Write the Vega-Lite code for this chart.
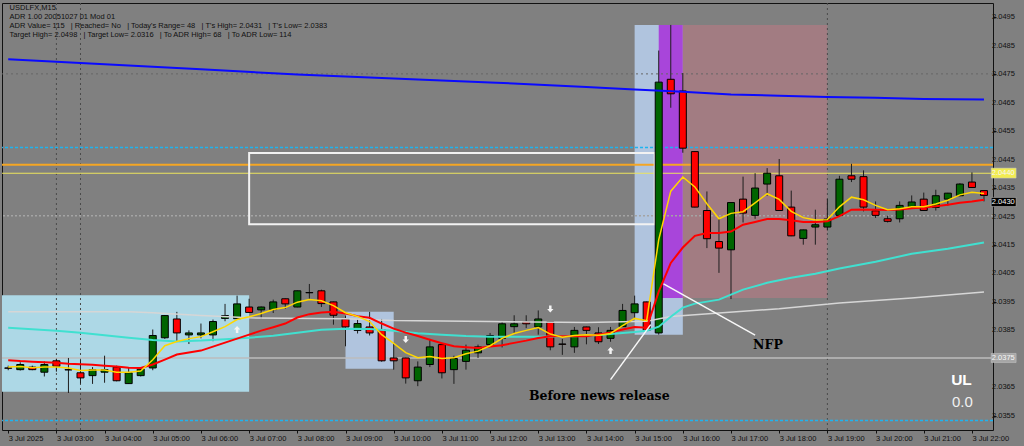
{
"$schema": "https://vega.github.io/schema/vega-lite/v6.json",
"width": 991,
"height": 427,
"autosize": {"type": "none"},
"padding": {"left": 2, "top": 3, "right": 31, "bottom": 16},
"background": "#808080",
"config": {"view": {"stroke": "#111111", "strokeWidth": 1},
 "axis": {"titleOpacity": 0, "titleFontSize": 1, "titlePadding": 0, "labelOverlap": false, "grid": false, "domain": false, "tickColor": "#111111", "labelColor": "#111111", "labelFont": "Liberation Sans", "labelFontSize": 7.5, "labelBound": false, "labelFlush": false},
 "axisY": {"labels": false, "tickSize": 3},
 "axisX": {"tickSize": 3, "labelPadding": 1}},
"resolve": {"scale": {"color": "independent"}},
"layer": [
{"data": {"values": [
 {"t1": "01:30", "t2": "07:00", "p1": 2.03634, "p2": 2.03973, "kind": "session"},
 {"t1": "09:00", "t2": "10:00", "p1": 2.03715, "p2": 2.03915, "kind": "news"},
 {"t1": "15:00", "t2": "16:00", "p1": 2.03835, "p2": 2.04923, "kind": "news"},
 {"t1": "15:30", "t2": "16:00", "p1": 2.03964, "p2": 2.04923, "kind": "nfp"},
 {"t1": "16:00", "t2": "19:00", "p1": 2.03964, "p2": 2.04923, "kind": "after"}],
 "format": {"parse": {"t1": "utc:'%H:%M'", "t2": "utc:'%H:%M'"}}},
 "mark": {"type": "rect", "clip": true},
 "encoding": {
  "x": {"field": "t1", "type": "temporal", "scale": {"type": "utc", "nice": false, "domain": [{"year": 1900, "month": 1, "date": 1, "hours": 1, "minutes": 58, "seconds": 30, "utc": true}, {"year": 1900, "month": 1, "date": 1, "hours": 22, "minutes": 20, "utc": true}]}},
  "x2": {"field": "t2"},
  "y": {"field": "p1", "type": "quantitative", "scale": {"domain": [2.035, 2.05], "zero": false, "nice": false}},
  "y2": {"field": "p2"},
  "fill": {"field": "kind", "type": "nominal", "legend": null, "scale": {"domain": ["session", "news", "nfp", "after"], "range": ["#ADD8E6", "#B0C4DE", "#A845DA", "#A27C82"]}}
 }},
{"data": {"values": [{"t": "03:00"}, {"t": "03:30"}, {"t": "19:00"}], "format": {"parse": {"t": "utc:'%H:%M'"}}},
 "mark": {"type": "rule", "color": "#4a4a4a", "strokeWidth": 1, "strokeDash": [2, 3]},
 "encoding": {"x": {"field": "t", "type": "temporal", "scale": {"type": "utc", "nice": false, "domain": [{"year": 1900, "month": 1, "date": 1, "hours": 1, "minutes": 58, "seconds": 30, "utc": true}, {"year": 1900, "month": 1, "date": 1, "hours": 22, "minutes": 20, "utc": true}]}}}},
{"data": {"values": [{"p": 2.04751}]}, "mark": {"type": "rule", "color": "#666666", "strokeWidth": 1, "strokeDash": [2, 3]},
 "encoding": {"y": {"field": "p", "type": "quantitative", "scale": {"domain": [2.035, 2.05], "zero": false, "nice": false}}}},
{"data": {"values": [{"p": 2.04492}, {"p": 2.03533}]}, "mark": {"type": "rule", "color": "#1EB4F0", "strokeWidth": 1.5, "strokeDash": [3, 2]},
 "encoding": {"y": {"field": "p", "type": "quantitative", "scale": {"domain": [2.035, 2.05], "zero": false, "nice": false}}}},
{"data": {"values": [{"p": 2.04432}]}, "mark": {"type": "rule", "color": "#F5A623", "strokeWidth": 2},
 "encoding": {"y": {"field": "p", "type": "quantitative", "scale": {"domain": [2.035, 2.05], "zero": false, "nice": false}}}},
{"data": {"values": [{"p": 2.04402}]}, "mark": {"type": "rule", "color": "#ECE45C", "strokeWidth": 1.2},
 "encoding": {"y": {"field": "p", "type": "quantitative", "scale": {"domain": [2.035, 2.05], "zero": false, "nice": false}}}},
{"data": {"values": [{"p": 2.04253}]}, "mark": {"type": "rule", "color": "#A4A4A4", "strokeWidth": 1.5, "strokeDash": [2, 2]},
 "encoding": {"y": {"field": "p", "type": "quantitative", "scale": {"domain": [2.035, 2.05], "zero": false, "nice": false}}}},
{"data": {"values": [{"p": 2.03753}]}, "mark": {"type": "rule", "color": "#BDBDBD", "strokeWidth": 1.5},
 "encoding": {"y": {"field": "p", "type": "quantitative", "scale": {"domain": [2.035, 2.05], "zero": false, "nice": false}}}},
{"data": {"values": [{"t1": "07:00", "t2": "15:25", "p1": 2.04223, "p2": 2.04473}], "format": {"parse": {"t1": "utc:'%H:%M'", "t2": "utc:'%H:%M'"}}},
 "mark": {"type": "rect", "filled": false, "color": "#F2F2F2", "strokeWidth": 2},
 "encoding": {
  "x": {"field": "t1", "type": "temporal", "scale": {"type": "utc", "nice": false, "domain": [{"year": 1900, "month": 1, "date": 1, "hours": 1, "minutes": 58, "seconds": 30, "utc": true}, {"year": 1900, "month": 1, "date": 1, "hours": 22, "minutes": 20, "utc": true}]}},
  "x2": {"field": "t2"},
  "y": {"field": "p1", "type": "quantitative", "scale": {"domain": [2.035, 2.05], "zero": false, "nice": false}},
  "y2": {"field": "p2"}}},
{"data": {"values": [
{"t":"02:00","o":2.03718,"h":2.03726,"l":2.0371,"c":2.03717},
{"t":"02:15","o":2.03712,"h":2.03738,"l":2.03709,"c":2.0373},
{"t":"02:30","o":2.03721,"h":2.03726,"l":2.0371,"c":2.03712},
{"t":"02:45","o":2.03703,"h":2.03741,"l":2.03688,"c":2.0373},
{"t":"03:00","o":2.03743,"h":2.0375,"l":2.03705,"c":2.03724},
{"t":"03:15","o":2.03712,"h":2.03753,"l":2.0363,"c":2.03711},
{"t":"03:30","o":2.03701,"h":2.03747,"l":2.03663,"c":2.03683},
{"t":"03:45","o":2.03691,"h":2.03721,"l":2.03662,"c":2.03712},
{"t":"04:00","o":2.03703,"h":2.03761,"l":2.03666,"c":2.03712},
{"t":"04:15","o":2.03721,"h":2.03726,"l":2.03671,"c":2.03673},
{"t":"04:30","o":2.03663,"h":2.03721,"l":2.03662,"c":2.03701},
{"t":"04:45","o":2.03691,"h":2.03716,"l":2.03688,"c":2.03714},
{"t":"05:00","o":2.03718,"h":2.03853,"l":2.0371,"c":2.03832},
{"t":"05:15","o":2.03824,"h":2.03904,"l":2.0382,"c":2.03902},
{"t":"05:30","o":2.0389,"h":2.03915,"l":2.0381,"c":2.03841},
{"t":"05:45","o":2.03834,"h":2.0385,"l":2.03802,"c":2.03841},
{"t":"06:00","o":2.03834,"h":2.03874,"l":2.03822,"c":2.03841},
{"t":"06:15","o":2.03834,"h":2.03888,"l":2.03812,"c":2.03881},
{"t":"06:30","o":2.03892,"h":2.03943,"l":2.03882,"c":2.03902},
{"t":"06:45","o":2.03891,"h":2.03972,"l":2.0389,"c":2.03943},
{"t":"07:00","o":2.03932,"h":2.03961,"l":2.03911,"c":2.03913},
{"t":"07:15","o":2.03922,"h":2.03934,"l":2.0389,"c":2.03932},
{"t":"07:30","o":2.03923,"h":2.03958,"l":2.03911,"c":2.0395},
{"t":"07:45","o":2.03961,"h":2.03962,"l":2.03925,"c":2.03943},
{"t":"08:00","o":2.03932,"h":2.0399,"l":2.03931,"c":2.03989},
{"t":"08:15","o":2.03983,"h":2.04013,"l":2.03961,"c":2.03982},
{"t":"08:30","o":2.03989,"h":2.03993,"l":2.03932,"c":2.03944},
{"t":"08:45","o":2.0395,"h":2.03951,"l":2.0387,"c":2.03903},
{"t":"09:00","o":2.0389,"h":2.03902,"l":2.03794,"c":2.03862},
{"t":"09:15","o":2.0385,"h":2.0389,"l":2.03839,"c":2.03874},
{"t":"09:30","o":2.03862,"h":2.03915,"l":2.03832,"c":2.03841},
{"t":"09:45","o":2.03853,"h":2.0389,"l":2.0374,"c":2.03743},
{"t":"10:00","o":2.03753,"h":2.03806,"l":2.03712,"c":2.03743},
{"t":"10:15","o":2.03753,"h":2.03754,"l":2.03663,"c":2.03683},
{"t":"10:30","o":2.03673,"h":2.03741,"l":2.03654,"c":2.03721},
{"t":"10:45","o":2.0373,"h":2.0382,"l":2.03721,"c":2.03792},
{"t":"11:00","o":2.038,"h":2.03801,"l":2.03681,"c":2.03701},
{"t":"11:15","o":2.03712,"h":2.03761,"l":2.03662,"c":2.03751},
{"t":"11:30","o":2.03741,"h":2.038,"l":2.03712,"c":2.0378},
{"t":"11:45","o":2.03771,"h":2.038,"l":2.03753,"c":2.03792},
{"t":"12:00","o":2.038,"h":2.03841,"l":2.03796,"c":2.03832},
{"t":"12:15","o":2.03822,"h":2.0388,"l":2.0379,"c":2.03873},
{"t":"12:30","o":2.03863,"h":2.03903,"l":2.03841,"c":2.03873},
{"t":"12:45","o":2.0388,"h":2.03903,"l":2.03858,"c":2.03873},
{"t":"13:00","o":2.03862,"h":2.0392,"l":2.03835,"c":2.0389},
{"t":"13:15","o":2.0388,"h":2.03881,"l":2.0378,"c":2.03792},
{"t":"13:30","o":2.03802,"h":2.0382,"l":2.03764,"c":2.03801},
{"t":"13:45","o":2.03792,"h":2.03862,"l":2.03771,"c":2.0385},
{"t":"14:00","o":2.03862,"h":2.03863,"l":2.03801,"c":2.0385},
{"t":"14:15","o":2.03841,"h":2.03861,"l":2.03802,"c":2.0381},
{"t":"14:30","o":2.03822,"h":2.03862,"l":2.0381,"c":2.0385},
{"t":"14:45","o":2.03863,"h":2.03943,"l":2.03862,"c":2.0392},
{"t":"15:00","o":2.03912,"h":2.03972,"l":2.03891,"c":2.03943},
{"t":"15:15","o":2.0395,"h":2.03951,"l":2.03849,"c":2.0385},
{"t":"15:30","o":2.03841,"h":2.04833,"l":2.03835,"c":2.04722},
{"t":"15:45","o":2.04732,"h":2.04923,"l":2.04632,"c":2.04681},
{"t":"16:00","o":2.04691,"h":2.04754,"l":2.04474,"c":2.0449},
{"t":"16:15","o":2.04478,"h":2.04479,"l":2.04282,"c":2.04283},
{"t":"16:30","o":2.04271,"h":2.04338,"l":2.04139,"c":2.04172},
{"t":"16:45","o":2.04162,"h":2.04245,"l":2.04052,"c":2.04139},
{"t":"17:00","o":2.04133,"h":2.043,"l":2.0396,"c":2.04299},
{"t":"17:15","o":2.04311,"h":2.0439,"l":2.04229,"c":2.04262},
{"t":"17:30","o":2.04254,"h":2.04402,"l":2.04242,"c":2.0435},
{"t":"17:45","o":2.04364,"h":2.0442,"l":2.04323,"c":2.04402},
{"t":"18:00","o":2.04393,"h":2.04452,"l":2.0427,"c":2.04271},
{"t":"18:15","o":2.04283,"h":2.04341,"l":2.04181,"c":2.04182},
{"t":"18:30","o":2.04173,"h":2.04204,"l":2.04151,"c":2.04203},
{"t":"18:45","o":2.04213,"h":2.04274,"l":2.04151,"c":2.04221},
{"t":"19:00","o":2.04213,"h":2.04312,"l":2.04201,"c":2.04241},
{"t":"19:15","o":2.04254,"h":2.04393,"l":2.04253,"c":2.04381},
{"t":"19:30","o":2.04393,"h":2.04435,"l":2.04371,"c":2.04381},
{"t":"19:45","o":2.0439,"h":2.04412,"l":2.04268,"c":2.04283},
{"t":"20:00","o":2.0427,"h":2.04303,"l":2.04245,"c":2.04254},
{"t":"20:15","o":2.04242,"h":2.04253,"l":2.04229,"c":2.04233},
{"t":"20:30","o":2.04242,"h":2.04303,"l":2.04229,"c":2.04289},
{"t":"20:45","o":2.04282,"h":2.04324,"l":2.0428,"c":2.04301},
{"t":"21:00","o":2.04311,"h":2.04334,"l":2.0427,"c":2.04271},
{"t":"21:15","o":2.04282,"h":2.04344,"l":2.04271,"c":2.04323},
{"t":"21:30","o":2.04311,"h":2.04333,"l":2.04288,"c":2.04332},
{"t":"21:45","o":2.04323,"h":2.04367,"l":2.04321,"c":2.04364},
{"t":"22:00","o":2.04371,"h":2.04405,"l":2.04351,"c":2.04352},
{"t":"22:15","o":2.04341,"h":2.04342,"l":2.04303,"c":2.04324}],
 "format": {"parse": {"t": "utc:'%H:%M'"}}},
 "layer": [
  {"mark": {"type": "rule", "color": "#1e1e1e", "strokeWidth": 1, "clip": true},
   "encoding": {
    "x": {"field": "t", "type": "temporal", "scale": {"type": "utc", "nice": false, "domain": [{"year": 1900, "month": 1, "date": 1, "hours": 1, "minutes": 58, "seconds": 30, "utc": true}, {"year": 1900, "month": 1, "date": 1, "hours": 22, "minutes": 20, "utc": true}]}},
    "y": {"field": "l", "type": "quantitative", "scale": {"domain": [2.035, 2.05], "zero": false, "nice": false}},
    "y2": {"field": "h"}}},
  {"mark": {"type": "bar", "width": 7, "stroke": "#000000", "strokeWidth": 1, "clip": true},
   "encoding": {
    "x": {"field": "t", "type": "temporal",
      "scale": {"type": "utc", "nice": false, "domain": [{"year": 1900, "month": 1, "date": 1, "hours": 1, "minutes": 58, "seconds": 30, "utc": true}, {"year": 1900, "month": 1, "date": 1, "hours": 22, "minutes": 20, "utc": true}]},
      "axis": {"title": null, "grid": false, "domain": false, "tickColor": "#111111", "tickSize": 3, "labelFont": "Liberation Sans", "labelFontSize": 7.5, "labelColor": "#111111", "labelAlign": "left", "labelPadding": 1, "labelOverlap": false, "labelBound": false, "labelFlush": false,
       "labelExpr": "utchours(datum.value) == 2 ? '3 Jul 2025' : '3 Jul ' + utcFormat(datum.value, '%H:%M')",
       "values": [
        {"year": 1900, "month": 1, "date": 1, "hours": 2, "utc": true}, {"year": 1900, "month": 1, "date": 1, "hours": 3, "utc": true}, {"year": 1900, "month": 1, "date": 1, "hours": 4, "utc": true}, {"year": 1900, "month": 1, "date": 1, "hours": 5, "utc": true}, {"year": 1900, "month": 1, "date": 1, "hours": 6, "utc": true}, {"year": 1900, "month": 1, "date": 1, "hours": 7, "utc": true}, {"year": 1900, "month": 1, "date": 1, "hours": 8, "utc": true}, {"year": 1900, "month": 1, "date": 1, "hours": 9, "utc": true}, {"year": 1900, "month": 1, "date": 1, "hours": 10, "utc": true}, {"year": 1900, "month": 1, "date": 1, "hours": 11, "utc": true}, {"year": 1900, "month": 1, "date": 1, "hours": 12, "utc": true}, {"year": 1900, "month": 1, "date": 1, "hours": 13, "utc": true}, {"year": 1900, "month": 1, "date": 1, "hours": 14, "utc": true}, {"year": 1900, "month": 1, "date": 1, "hours": 15, "utc": true}, {"year": 1900, "month": 1, "date": 1, "hours": 16, "utc": true}, {"year": 1900, "month": 1, "date": 1, "hours": 17, "utc": true}, {"year": 1900, "month": 1, "date": 1, "hours": 18, "utc": true}, {"year": 1900, "month": 1, "date": 1, "hours": 19, "utc": true}, {"year": 1900, "month": 1, "date": 1, "hours": 20, "utc": true}, {"year": 1900, "month": 1, "date": 1, "hours": 21, "utc": true}, {"year": 1900, "month": 1, "date": 1, "hours": 22, "utc": true}]}},
    "y": {"field": "o", "type": "quantitative",
      "scale": {"domain": [2.035, 2.05], "zero": false, "nice": false},
      "axis": {"title": null, "orient": "right", "grid": false, "domain": false, "labels": false, "tickColor": "#111111", "tickSize": 3,
       "values": [2.0355, 2.0365, 2.0375, 2.0385, 2.0395, 2.0405, 2.0415, 2.0425, 2.0435, 2.0445, 2.0455, 2.0465, 2.0475, 2.0485, 2.0495]}},
    "y2": {"field": "c"},
    "color": {"condition": {"test": "datum.c > datum.o", "value": "#006400"}, "value": "#FF0000"}}}
 ]},
{"data": {"values": [
 {"t":"02:00","v":2.04802},{"t":"04:00","v":2.04785},{"t":"06:00","v":2.04767},{"t":"08:00","v":2.04749},{"t":"10:00","v":2.04735},{"t":"12:00","v":2.04721},{"t":"14:00","v":2.04705},{"t":"15:00","v":2.04696},{"t":"16:00","v":2.04688},{"t":"17:00","v":2.04679},{"t":"18:00","v":2.04674},{"t":"19:00","v":2.0467},{"t":"20:00","v":2.04667},{"t":"21:00","v":2.04663},{"t":"22:15","v":2.04661}],
 "format": {"parse": {"t": "utc:'%H:%M'"}}},
 "mark": {"type": "line", "color": "#0A0AFF", "strokeWidth": 2},
 "encoding": {
  "x": {"field": "t", "type": "temporal", "scale": {"type": "utc", "nice": false, "domain": [{"year": 1900, "month": 1, "date": 1, "hours": 1, "minutes": 58, "seconds": 30, "utc": true}, {"year": 1900, "month": 1, "date": 1, "hours": 22, "minutes": 20, "utc": true}]}},
  "y": {"field": "v", "type": "quantitative", "scale": {"domain": [2.035, 2.05], "zero": false, "nice": false}}}},
{"data": {"values": [
 {"t":"02:00","v":2.03915},{"t":"04:30","v":2.03915},{"t":"05:00","v":2.03912},{"t":"06:00","v":2.03902},{"t":"07:00","v":2.03894},{"t":"09:00","v":2.03891},{"t":"10:00","v":2.03885},{"t":"12:00","v":2.03881},{"t":"14:00","v":2.03878},{"t":"15:15","v":2.03882},{"t":"15:45","v":2.03899},{"t":"16:15","v":2.03905},{"t":"16:45","v":2.03911},{"t":"18:00","v":2.03926},{"t":"19:15","v":2.03946},{"t":"20:45","v":2.03964},{"t":"22:15","v":2.03985}],
 "format": {"parse": {"t": "utc:'%H:%M'"}}},
 "mark": {"type": "line", "color": "#D6D6D6", "strokeWidth": 1.5},
 "encoding": {
  "x": {"field": "t", "type": "temporal", "scale": {"type": "utc", "nice": false, "domain": [{"year": 1900, "month": 1, "date": 1, "hours": 1, "minutes": 58, "seconds": 30, "utc": true}, {"year": 1900, "month": 1, "date": 1, "hours": 22, "minutes": 20, "utc": true}]}},
  "y": {"field": "v", "type": "quantitative", "scale": {"domain": [2.035, 2.05], "zero": false, "nice": false}}}},
{"data": {"values": [
 {"t":"02:00","v":2.03859},{"t":"02:30","v":2.03854},{"t":"03:00","v":2.03849},{"t":"03:30","v":2.03842},{"t":"04:00","v":2.03833},{"t":"04:30","v":2.03824},{"t":"05:00","v":2.03816},{"t":"05:30","v":2.03811},{"t":"06:00","v":2.03814},{"t":"06:30","v":2.03819},{"t":"07:00","v":2.03824},{"t":"07:30","v":2.03831},{"t":"08:00","v":2.03842},{"t":"08:30","v":2.03852},{"t":"09:00","v":2.03856},{"t":"09:30","v":2.03855},{"t":"10:00","v":2.03849},{"t":"10:30","v":2.0384},{"t":"11:00","v":2.03835},{"t":"11:30","v":2.0383},{"t":"12:00","v":2.03828},{"t":"13:00","v":2.03828},{"t":"14:00","v":2.0383},{"t":"14:30","v":2.03837},{"t":"15:00","v":2.03844},{"t":"15:15","v":2.03849},{"t":"15:30","v":2.03863},{"t":"15:45","v":2.03898},{"t":"16:00","v":2.0393},{"t":"16:15","v":2.03944},{"t":"16:30","v":2.03951},{"t":"16:45","v":2.03958},{"t":"17:15","v":2.03993},{"t":"17:45","v":2.04017},{"t":"18:15","v":2.04035},{"t":"18:45","v":2.04049},{"t":"19:15","v":2.04067},{"t":"20:00","v":2.04091},{"t":"20:45","v":2.04119},{"t":"21:30","v":2.04137},{"t":"22:15","v":2.04159}],
 "format": {"parse": {"t": "utc:'%H:%M'"}}},
 "mark": {"type": "line", "color": "#40E0D0", "strokeWidth": 2},
 "encoding": {
  "x": {"field": "t", "type": "temporal", "scale": {"type": "utc", "nice": false, "domain": [{"year": 1900, "month": 1, "date": 1, "hours": 1, "minutes": 58, "seconds": 30, "utc": true}, {"year": 1900, "month": 1, "date": 1, "hours": 22, "minutes": 20, "utc": true}]}},
  "y": {"field": "v", "type": "quantitative", "scale": {"domain": [2.035, 2.05], "zero": false, "nice": false}}}},
{"data": {"values": [
 {"t":"02:00","v":2.03745},{"t":"02:15","v":2.03742},{"t":"02:30","v":2.0374},{"t":"02:45","v":2.03738},{"t":"03:00","v":2.03736},{"t":"03:15","v":2.03733},{"t":"03:30","v":2.03731},{"t":"03:45","v":2.03729},{"t":"04:00","v":2.03726},{"t":"04:15","v":2.03723},{"t":"04:30","v":2.03719},{"t":"04:45","v":2.03718},{"t":"05:00","v":2.0373},{"t":"05:15","v":2.03747},{"t":"05:30","v":2.03765},{"t":"05:45","v":2.03772},{"t":"06:00","v":2.03779},{"t":"06:15","v":2.03793},{"t":"06:30","v":2.03807},{"t":"06:45","v":2.03821},{"t":"07:00","v":2.03835},{"t":"07:15","v":2.03849},{"t":"07:30","v":2.03861},{"t":"07:45","v":2.03874},{"t":"08:00","v":2.03895},{"t":"08:15","v":2.03907},{"t":"08:30","v":2.03913},{"t":"08:45","v":2.03915},{"t":"09:00","v":2.03909},{"t":"09:15","v":2.039},{"t":"09:30","v":2.03894},{"t":"09:45","v":2.03874},{"t":"10:00","v":2.03856},{"t":"10:15","v":2.03842},{"t":"10:30","v":2.0383},{"t":"10:45","v":2.03817},{"t":"11:00","v":2.03805},{"t":"11:15","v":2.03794},{"t":"11:30","v":2.03791},{"t":"11:45","v":2.03788},{"t":"12:00","v":2.03793},{"t":"12:15","v":2.03798},{"t":"12:30","v":2.03806},{"t":"12:45","v":2.03814},{"t":"13:00","v":2.03823},{"t":"13:15","v":2.03829},{"t":"13:30","v":2.03829},{"t":"13:45","v":2.03829},{"t":"14:00","v":2.03829},{"t":"14:15","v":2.03835},{"t":"14:30","v":2.03843},{"t":"14:45","v":2.03853},{"t":"15:00","v":2.03862},{"t":"15:15","v":2.03859},{"t":"15:30","v":2.03986},{"t":"15:45","v":2.04087},{"t":"16:00","v":2.04141},{"t":"16:15","v":2.04182},{"t":"16:30","v":2.04192},{"t":"16:45","v":2.04192},{"t":"17:00","v":2.04197},{"t":"17:15","v":2.04221},{"t":"17:30","v":2.04231},{"t":"17:45","v":2.04241},{"t":"18:00","v":2.04241},{"t":"18:15","v":2.04237},{"t":"18:30","v":2.04231},{"t":"18:45","v":2.04231},{"t":"19:00","v":2.04233},{"t":"19:15","v":2.04251},{"t":"19:30","v":2.04274},{"t":"19:45","v":2.04275},{"t":"20:00","v":2.04274},{"t":"20:15","v":2.04273},{"t":"20:30","v":2.04275},{"t":"20:45","v":2.04279},{"t":"21:00","v":2.04282},{"t":"21:15","v":2.04286},{"t":"21:30","v":2.04291},{"t":"21:45","v":2.04298},{"t":"22:00","v":2.04303},{"t":"22:15","v":2.04309}],
 "format": {"parse": {"t": "utc:'%H:%M'"}}},
 "mark": {"type": "line", "color": "#FF0000", "strokeWidth": 2},
 "encoding": {
  "x": {"field": "t", "type": "temporal", "scale": {"type": "utc", "nice": false, "domain": [{"year": 1900, "month": 1, "date": 1, "hours": 1, "minutes": 58, "seconds": 30, "utc": true}, {"year": 1900, "month": 1, "date": 1, "hours": 22, "minutes": 20, "utc": true}]}},
  "y": {"field": "v", "type": "quantitative", "scale": {"domain": [2.035, 2.05], "zero": false, "nice": false}}}},
{"data": {"values": [
 {"t":"02:00","v":2.03721},{"t":"02:15","v":2.03723},{"t":"02:30","v":2.03719},{"t":"02:45","v":2.03721},{"t":"03:00","v":2.03721},{"t":"03:15","v":2.03718},{"t":"03:30","v":2.03709},{"t":"03:45","v":2.03711},{"t":"04:00","v":2.03711},{"t":"04:15","v":2.03703},{"t":"04:30","v":2.03703},{"t":"04:45","v":2.03707},{"t":"05:00","v":2.03747},{"t":"05:15","v":2.03796},{"t":"05:30","v":2.03811},{"t":"05:45","v":2.03821},{"t":"06:00","v":2.03828},{"t":"06:15","v":2.03845},{"t":"06:30","v":2.03863},{"t":"06:45","v":2.03888},{"t":"07:00","v":2.03898},{"t":"07:15","v":2.03909},{"t":"07:30","v":2.03923},{"t":"07:45","v":2.0393},{"t":"08:00","v":2.03949},{"t":"08:15","v":2.03958},{"t":"08:30","v":2.03954},{"t":"08:45","v":2.03937},{"t":"09:00","v":2.03912},{"t":"09:15","v":2.03899},{"t":"09:30","v":2.03881},{"t":"09:45","v":2.03835},{"t":"10:00","v":2.03804},{"t":"10:15","v":2.03772},{"t":"10:30","v":2.03754},{"t":"10:45","v":2.03758},{"t":"11:00","v":2.03751},{"t":"11:15","v":2.03754},{"t":"11:30","v":2.03768},{"t":"11:45","v":2.03777},{"t":"12:00","v":2.03796},{"t":"12:15","v":2.03822},{"t":"12:30","v":2.03839},{"t":"12:45","v":2.0385},{"t":"13:00","v":2.0386},{"t":"13:15","v":2.03837},{"t":"13:30","v":2.03826},{"t":"13:45","v":2.03832},{"t":"14:00","v":2.03835},{"t":"14:15","v":2.03833},{"t":"14:30","v":2.03839},{"t":"14:45","v":2.03867},{"t":"15:00","v":2.03892},{"t":"15:15","v":2.03884},{"t":"15:30","v":2.04169},{"t":"15:45","v":2.04339},{"t":"16:00","v":2.04389},{"t":"16:15","v":2.04354},{"t":"16:30","v":2.04295},{"t":"16:45","v":2.04242},{"t":"17:00","v":2.04261},{"t":"17:15","v":2.04267},{"t":"17:30","v":2.04298},{"t":"17:45","v":2.0433},{"t":"18:00","v":2.0431},{"t":"18:15","v":2.04268},{"t":"18:30","v":2.04246},{"t":"18:45","v":2.04238},{"t":"19:00","v":2.04239},{"t":"19:15","v":2.04284},{"t":"19:30","v":2.04318},{"t":"19:45","v":2.04309},{"t":"20:00","v":2.04289},{"t":"20:15","v":2.04274},{"t":"20:30","v":2.04277},{"t":"20:45","v":2.04284},{"t":"21:00","v":2.04284},{"t":"21:15","v":2.04294},{"t":"21:30","v":2.04307},{"t":"21:45","v":2.04326},{"t":"22:00","v":2.04335},{"t":"22:15","v":2.04331}],
 "format": {"parse": {"t": "utc:'%H:%M'"}}},
 "mark": {"type": "line", "color": "#FFD700", "strokeWidth": 1.5},
 "encoding": {
  "x": {"field": "t", "type": "temporal", "scale": {"type": "utc", "nice": false, "domain": [{"year": 1900, "month": 1, "date": 1, "hours": 1, "minutes": 58, "seconds": 30, "utc": true}, {"year": 1900, "month": 1, "date": 1, "hours": 22, "minutes": 20, "utc": true}]}},
  "y": {"field": "v", "type": "quantitative", "scale": {"domain": [2.035, 2.05], "zero": false, "nice": false}}}},
{"data": {"values": [
 {"t1": "15:36", "p1": 2.04013, "t2": "17:30", "p2": 2.03833},
 {"t1": "14:30", "p1": 2.03677, "t2": "15:20", "p2": 2.0387}],
 "format": {"parse": {"t1": "utc:'%H:%M'", "t2": "utc:'%H:%M'"}}},
 "mark": {"type": "rule", "color": "#F8F8F8", "strokeWidth": 1.5},
 "encoding": {
  "x": {"field": "t1", "type": "temporal", "scale": {"type": "utc", "nice": false, "domain": [{"year": 1900, "month": 1, "date": 1, "hours": 1, "minutes": 58, "seconds": 30, "utc": true}, {"year": 1900, "month": 1, "date": 1, "hours": 22, "minutes": 20, "utc": true}]}},
  "x2": {"field": "t2"},
  "y": {"field": "p1", "type": "quantitative", "scale": {"domain": [2.035, 2.05], "zero": false, "nice": false}},
  "y2": {"field": "p2"}}},
{"data": {"values": [
 {"t": "06:45", "p": 2.03853, "dir": "up"}, {"t": "14:30", "p": 2.03779, "dir": "up"},
 {"t": "10:15", "p": 2.03818, "dir": "down"}, {"t": "13:15", "p": 2.03925, "dir": "down"}],
 "format": {"parse": {"t": "utc:'%H:%M'"}}},
 "mark": {"type": "point", "filled": true, "color": "#F4F4F4", "opacity": 1, "size": 50},
 "encoding": {
  "x": {"field": "t", "type": "temporal", "scale": {"type": "utc", "nice": false, "domain": [{"year": 1900, "month": 1, "date": 1, "hours": 1, "minutes": 58, "seconds": 30, "utc": true}, {"year": 1900, "month": 1, "date": 1, "hours": 22, "minutes": 20, "utc": true}]}},
  "y": {"field": "p", "type": "quantitative", "scale": {"domain": [2.035, 2.05], "zero": false, "nice": false}},
  "shape": {"field": "dir", "type": "nominal", "legend": null, "scale": {"domain": ["up", "down"], "range": ["M0,-1L0.9,0L0.35,0L0.35,1L-0.35,1L-0.35,0L-0.9,0Z", "M0,1L0.9,0L0.35,0L0.35,-1L-0.35,-1L-0.35,0L-0.9,0Z"]}}}},
{"data": {"values": [
 {"t": "01:58", "p": 2.04981, "text": "USDLFX,M15"},
 {"t": "01:58", "p": 2.04952, "text": "ADR 1.00 20051027 01 Mod 01"},
 {"t": "01:58", "p": 2.0492, "text": "ADR Value= 115\u00a0\u00a0\u00a0| Reached= No\u00a0\u00a0\u00a0| Today's Range= 48\u00a0\u00a0\u00a0| T's High= 2.0431\u00a0\u00a0\u00a0| T's Low= 2.0383"},
 {"t": "01:58", "p": 2.04888, "text": "Target High= 2.0498\u00a0\u00a0\u00a0| Target Low= 2.0316\u00a0\u00a0\u00a0| To ADR High= 68\u00a0\u00a0\u00a0| To ADR Low= 114"}],
 "format": {"parse": {"t": "utc:'%H:%M'"}}},
 "mark": {"type": "text", "align": "left", "baseline": "middle", "dx": 3, "font": "Liberation Sans", "fontSize": 7.5, "color": "#101010"},
 "encoding": {
  "x": {"field": "t", "type": "temporal", "scale": {"type": "utc", "nice": false, "domain": [{"year": 1900, "month": 1, "date": 1, "hours": 1, "minutes": 58, "seconds": 30, "utc": true}, {"year": 1900, "month": 1, "date": 1, "hours": 22, "minutes": 20, "utc": true}]}},
  "y": {"field": "p", "type": "quantitative", "scale": {"domain": [2.035, 2.05], "zero": false, "nice": false}},
  "text": {"field": "text"}}},
{"data": {"values": [
 {"t": "17:46", "p": 2.038, "text": "NFP"},
 {"t": "14:16", "p": 2.03621, "text": "Before news release"}],
 "format": {"parse": {"t": "utc:'%H:%M'"}}},
 "mark": {"type": "text", "align": "center", "baseline": "middle", "font": "DejaVu Serif", "fontWeight": "bold", "fontSize": 12.5, "color": "#000000"},
 "encoding": {
  "x": {"field": "t", "type": "temporal", "scale": {"type": "utc", "nice": false, "domain": [{"year": 1900, "month": 1, "date": 1, "hours": 1, "minutes": 58, "seconds": 30, "utc": true}, {"year": 1900, "month": 1, "date": 1, "hours": 22, "minutes": 20, "utc": true}]}},
  "y": {"field": "p", "type": "quantitative", "scale": {"domain": [2.035, 2.05], "zero": false, "nice": false}},
  "text": {"field": "text"}}},
{"data": {"values": [{"t": "21:47", "p": 2.03674, "text": "UL"}], "format": {"parse": {"t": "utc:'%H:%M'"}}},
 "mark": {"type": "text", "align": "center", "baseline": "middle", "font": "Liberation Sans", "fontWeight": "bold", "fontSize": 15.5, "color": "#FFFFFF"},
 "encoding": {
  "x": {"field": "t", "type": "temporal", "scale": {"type": "utc", "nice": false, "domain": [{"year": 1900, "month": 1, "date": 1, "hours": 1, "minutes": 58, "seconds": 30, "utc": true}, {"year": 1900, "month": 1, "date": 1, "hours": 22, "minutes": 20, "utc": true}]}},
  "y": {"field": "p", "type": "quantitative", "scale": {"domain": [2.035, 2.05], "zero": false, "nice": false}},
  "text": {"field": "text"}}},
{"data": {"values": [{"t": "21:48", "p": 2.036, "text": "0.0"}], "format": {"parse": {"t": "utc:'%H:%M'"}}},
 "mark": {"type": "text", "align": "center", "baseline": "middle", "font": "Liberation Sans", "fontSize": 15, "color": "#F0F0F0"},
 "encoding": {
  "x": {"field": "t", "type": "temporal", "scale": {"type": "utc", "nice": false, "domain": [{"year": 1900, "month": 1, "date": 1, "hours": 1, "minutes": 58, "seconds": 30, "utc": true}, {"year": 1900, "month": 1, "date": 1, "hours": 22, "minutes": 20, "utc": true}]}},
  "y": {"field": "p", "type": "quantitative", "scale": {"domain": [2.035, 2.05], "zero": false, "nice": false}},
  "text": {"field": "text"}}},
{"data": {"values": [
 {"t": "22:25", "p": 2.0355, "text": "2.0355"}, {"t": "22:25", "p": 2.0365, "text": "2.0365"},
 {"t": "22:25", "p": 2.0385, "text": "2.0385"}, {"t": "22:25", "p": 2.0395, "text": "2.0395"},
 {"t": "22:25", "p": 2.0405, "text": "2.0405"}, {"t": "22:25", "p": 2.0415, "text": "2.0415"},
 {"t": "22:25", "p": 2.0425, "text": "2.0425"}, {"t": "22:25", "p": 2.0435, "text": "2.0435"},
 {"t": "22:25", "p": 2.0445, "text": "2.0445"}, {"t": "22:25", "p": 2.0455, "text": "2.0455"},
 {"t": "22:25", "p": 2.0465, "text": "2.0465"}, {"t": "22:25", "p": 2.0475, "text": "2.0475"},
 {"t": "22:25", "p": 2.0485, "text": "2.0485"}, {"t": "22:25", "p": 2.0495, "text": "2.0495"}],
 "format": {"parse": {"t": "utc:'%H:%M'"}}},
 "mark": {"type": "text", "align": "left", "baseline": "middle", "font": "Liberation Sans", "fontSize": 7.5, "color": "#111111"},
 "encoding": {
  "x": {"field": "t", "type": "temporal", "scale": {"type": "utc", "nice": false, "domain": [{"year": 1900, "month": 1, "date": 1, "hours": 1, "minutes": 58, "seconds": 30, "utc": true}, {"year": 1900, "month": 1, "date": 1, "hours": 22, "minutes": 20, "utc": true}]}},
  "y": {"field": "p", "type": "quantitative", "scale": {"domain": [2.035, 2.05], "zero": false, "nice": false}},
  "text": {"field": "text"}}},
{"data": {"values": [
 {"t1": "22:24", "t2": "22:55", "p1": 2.04385, "p2": 2.0442, "kind": "line"},
 {"t1": "22:24", "t2": "22:55", "p1": 2.04285, "p2": 2.04317, "kind": "bid"},
 {"t1": "22:24", "t2": "22:55", "p1": 2.03737, "p2": 2.03769, "kind": "level"}],
 "format": {"parse": {"t1": "utc:'%H:%M'", "t2": "utc:'%H:%M'"}}},
 "mark": {"type": "rect", "stroke": "#C8C8C8", "strokeWidth": 0.5},
 "encoding": {
  "x": {"field": "t1", "type": "temporal", "scale": {"type": "utc", "nice": false, "domain": [{"year": 1900, "month": 1, "date": 1, "hours": 1, "minutes": 58, "seconds": 30, "utc": true}, {"year": 1900, "month": 1, "date": 1, "hours": 22, "minutes": 20, "utc": true}]}},
  "x2": {"field": "t2"},
  "y": {"field": "p1", "type": "quantitative", "scale": {"domain": [2.035, 2.05], "zero": false, "nice": false}},
  "y2": {"field": "p2"},
  "color": {"field": "kind", "type": "nominal", "legend": null, "scale": {"domain": ["line", "bid", "level"], "range": ["#F2EC50", "#000000", "#A6A6A6"]}}}},
{"data": {"values": [
 {"t": "22:39", "p": 2.04402, "text": "2.0440"},
 {"t": "22:39", "p": 2.04301, "text": "2.0430"},
 {"t": "22:39", "p": 2.03753, "text": "2.0375"}],
 "format": {"parse": {"t": "utc:'%H:%M'"}}},
 "mark": {"type": "text", "align": "center", "baseline": "middle", "font": "Liberation Sans", "fontSize": 7.5, "color": "#F6F6F6"},
 "encoding": {
  "x": {"field": "t", "type": "temporal", "scale": {"type": "utc", "nice": false, "domain": [{"year": 1900, "month": 1, "date": 1, "hours": 1, "minutes": 58, "seconds": 30, "utc": true}, {"year": 1900, "month": 1, "date": 1, "hours": 22, "minutes": 20, "utc": true}]}},
  "y": {"field": "p", "type": "quantitative", "scale": {"domain": [2.035, 2.05], "zero": false, "nice": false}},
  "text": {"field": "text"}}}
]
}
